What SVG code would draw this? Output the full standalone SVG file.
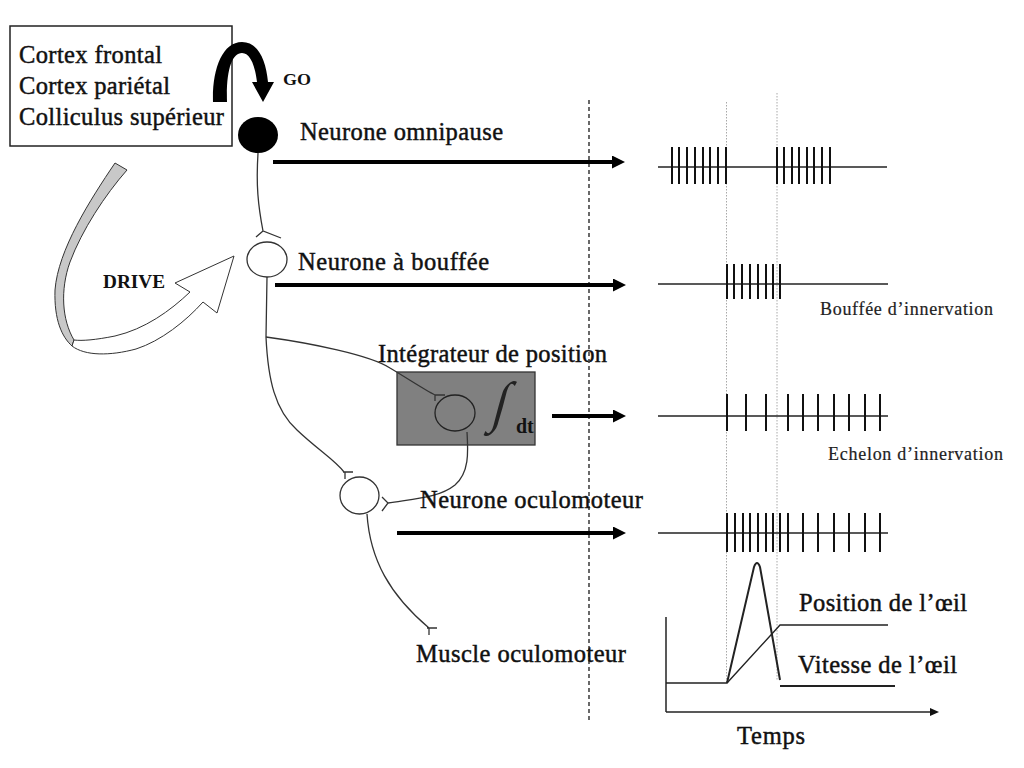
<svg xmlns="http://www.w3.org/2000/svg" width="1024" height="768" viewBox="0 0 1024 768">
<defs>
<style>
.lbl{font-family:"Liberation Serif","Times New Roman",serif;font-size:24.5px;fill:#111;stroke:#111;stroke-width:0.45}
.bld{font-family:"Liberation Serif","Times New Roman",serif;font-weight:bold;fill:#111}
.sm{font-family:"Liberation Serif","Times New Roman",serif;font-size:18px;fill:#222;stroke:#222;stroke-width:0.2}
.ax{fill:none;stroke:#333;stroke-width:1.3}
.big{stroke:#000;stroke-width:4;fill:none}
.spk{stroke:#111;stroke-width:2;fill:none}
.base{stroke:#222;stroke-width:1.6;fill:none}
.dot{stroke:#a8a8a8;stroke-width:1;stroke-dasharray:1.5 1.5;fill:none}
</style>
<marker id="ah" markerUnits="userSpaceOnUse" markerWidth="14" markerHeight="14" refX="1" refY="6.5" orient="auto">
<path d="M0,0 L13,6.5 L0,13 Z" fill="#000"/>
</marker>
<marker id="ahs" markerUnits="userSpaceOnUse" markerWidth="10" markerHeight="10" refX="1" refY="4" orient="auto">
<path d="M0,0 L9,4 L0,8 Z" fill="#111"/>
</marker>
</defs>
<rect width="1024" height="768" fill="#fff"/>

<g id="sources">
<rect x="10" y="26" width="222" height="120" fill="#fff" stroke="#222" stroke-width="1.5"/>
<text class="lbl" x="19" y="63" textLength="143" lengthAdjust="spacing">Cortex frontal</text>
<text class="lbl" x="19" y="94" textLength="151" lengthAdjust="spacing">Cortex pariétal</text>
<text class="lbl" x="19" y="125" textLength="205" lengthAdjust="spacing">Colliculus supérieur</text>
</g>

<g id="go">
<path d="M213,102 C212,70 222,42 242,42 C258,42 266,60 268,82 L274,82 L263,102 L252,82 L257,82 C255,65 250,53 242,53 C232,53 226,70 227,102 Z" fill="#000"/>
<text class="bld" x="283" y="85" style="font-size:16px" textLength="28" lengthAdjust="spacingAndGlyphs">GO</text>
</g>

<g id="drive">
<path d="M115,163 C90,200 58,250 55,290 C54,320 62,337 72,346 L74,340 C62,320 60,290 70,262 C82,230 105,195 127,170 Z" fill="#c8c8c8" stroke="#333" stroke-width="1"/>
<path d="M72,346 C85,356 110,356 136,349 C161,341 186,321 203,302 L217,313 L234,256 L175,283 L190,292 C170,311 145,329 115,336 C95,340 82,341 74,340 Z" fill="#fff" stroke="#333" stroke-width="1"/>
<text class="bld" x="103" y="288" style="font-size:19px" textLength="62" lengthAdjust="spacingAndGlyphs">DRIVE</text>
</g>

<g id="integrator">
<rect x="397" y="372" width="138" height="73" fill="#808080" stroke="#333" stroke-width="1.3"/>
<ellipse cx="455" cy="413" rx="20" ry="18" fill="none" stroke="#222" stroke-width="1.3"/>
<text transform="translate(497,421) skewX(-15) scale(1.8,2)" text-anchor="middle" style="font-family:'Liberation Serif',serif;font-size:28px;fill:#222">∫</text>
<text class="bld" x="516" y="433" style="font-size:20px">dt</text>
<text class="lbl" x="378" y="362" textLength="229" lengthAdjust="spacing">Intégrateur de position</text>
</g>

<g id="connectors">
<line x1="589" y1="100" x2="589" y2="722" stroke="#444" stroke-width="1.6" stroke-dasharray="4 3"/>
<line class="dot" x1="726.5" y1="102" x2="726.5" y2="683"/>
<line class="dot" x1="777" y1="93" x2="777" y2="680"/>
<path class="ax" d="M258,153 C256,185 258,205 263,231 M256,237 L263,231 L281,238"/>
<path class="ax" d="M267,277 L266,337 C268,380 275,410 297,430 C318,450 335,460 344,472 M343,472 L353,472 M345,472 L345,479"/>
<path class="ax" d="M266,337 C310,343 370,355 390,368 C410,380 425,390 435,395 M435,395 L445,395 M435,395 L435,401"/>
<path class="ax" d="M467,432 C468,450 470,472 455,485 C440,497 420,498 388,503 M382,497 L388,503 L382,511"/>
<path class="ax" d="M367,514 C370,560 390,595 429,628 M427,628 L437,628 M429,628 L429,635"/>
<line class="big" x1="273" y1="162" x2="613" y2="162" marker-end="url(#ah)"/>
<line class="big" x1="275" y1="285" x2="614" y2="285" marker-end="url(#ah)"/>
<line class="big" x1="552" y1="416" x2="614" y2="416" marker-end="url(#ah)"/>
<line class="big" x1="397" y1="533" x2="614" y2="533" marker-end="url(#ah)"/>
</g>

<g id="omnipause">
<ellipse cx="258" cy="135" rx="20" ry="18" fill="#000"/>
<text class="lbl" x="300" y="140" textLength="203" lengthAdjust="spacing">Neurone omnipause</text>
</g>

<g id="bouffee">
<ellipse cx="267" cy="259.5" rx="20" ry="17.5" fill="#fff" stroke="#333" stroke-width="1.3"/>
<text class="lbl" x="298" y="270" textLength="191" lengthAdjust="spacing">Neurone à bouffée</text>
</g>

<g id="oculomoteur">
<ellipse cx="359.5" cy="495.5" rx="19.5" ry="18.5" fill="#fff" stroke="#333" stroke-width="1.3"/>
<text class="lbl" x="420" y="508" textLength="223" lengthAdjust="spacing">Neurone oculomoteur</text>
</g>

<g id="muscle">
<text class="lbl" x="416" y="662" textLength="210" lengthAdjust="spacing">Muscle oculomoteur</text>
</g>

<g id="train-omnipause">
<line class="base" x1="658" y1="167" x2="887" y2="167"/>
<path class="spk" d="M672,147V184M679,147V184M687,147V184M695,147V184M703,147V184M710,147V184M718,147V184M726,147V184M777,147V184M784,147V184M792,147V184M799,147V184M807,147V184M814,147V184M822,147V184M830,147V184"/>
</g>

<g id="train-bouffee">
<line class="base" x1="658" y1="284" x2="888" y2="284"/>
<path class="spk" d="M727,264V299M734,264V299M742,264V299M750,264V299M758,264V299M766,264V299M773,264V299M780,264V299"/>
<text class="sm" x="820" y="315" textLength="173" lengthAdjust="spacing">Bouffée d’innervation</text>
</g>

<g id="train-integrateur">
<line class="base" x1="658" y1="416" x2="888" y2="416"/>
<path class="spk" d="M727,394V431M746,394V431M766,394V431M788,394V431M803,394V431M818,394V431M834,394V431M849,394V431M865,394V431M880,394V431"/>
<text class="sm" x="828" y="460" textLength="175" lengthAdjust="spacing">Echelon d’innervation</text>
</g>

<g id="train-oculomoteur">
<line class="base" x1="658" y1="533" x2="888" y2="533"/>
<path class="spk" d="M727,513V552M735,513V552M743,513V552M750,513V552M758,513V552M766,513V552M773,513V552M780,513V552M788,513V552M803,513V552M818,513V552M834,513V552M849,513V552M865,513V552M880,513V552"/>
</g>

<g id="graph">
<line x1="666" y1="617" x2="666" y2="712" stroke="#222" stroke-width="1.5"/>
<line x1="666" y1="712" x2="931" y2="712" stroke="#222" stroke-width="1.5" marker-end="url(#ahs)"/>
<path d="M666,683 L727,683 L780,625 L888,625" fill="none" stroke="#222" stroke-width="1.4"/>
<path d="M727,683 L754,567 Q757,559 760,567 L780,680 M780,686 L895,686" fill="none" stroke="#222" stroke-width="2"/>
<text class="lbl" x="799" y="611" textLength="168" lengthAdjust="spacing">Position de l’œil</text>
<text class="lbl" x="798" y="673" textLength="159" lengthAdjust="spacing">Vitesse de l’œil</text>
<text class="lbl" x="737" y="744" textLength="68" lengthAdjust="spacing">Temps</text>
</g>
</svg>
